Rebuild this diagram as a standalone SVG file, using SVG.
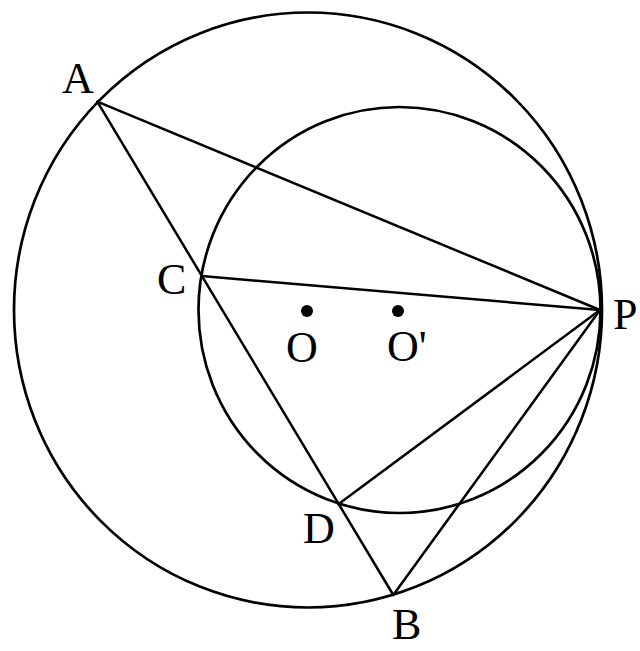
<svg xmlns="http://www.w3.org/2000/svg" width="640" height="651" viewBox="0 0 640 651">
<style>
.c{fill:none;stroke:#000;stroke-width:2.7}
.l{stroke:#000;stroke-width:2.5;stroke-linecap:round}
.t{font-family:"Liberation Serif","Times New Roman",serif;font-size:44px;fill:#000}
.d{fill:#000}
</style>
<rect width="640" height="651" fill="#fff"/>
<g id="circle-O"><ellipse class="c" cx="308" cy="310" rx="294" ry="297.5"/></g>
<g id="circle-O2"><ellipse class="c" cx="399.5" cy="310" rx="201" ry="203"/></g>
<g id="connectors">
<line class="l" x1="97.3" y1="101.7" x2="393.3" y2="595"/>
<line class="l" x1="97.3" y1="101.7" x2="600" y2="310"/>
<line class="l" x1="201.7" y1="276" x2="600" y2="310"/>
<line class="l" x1="338.3" y1="504.3" x2="600" y2="310"/>
<line class="l" x1="393.3" y1="595" x2="600" y2="310"/>
</g>
<g id="point-A"><text class="t" x="62" y="93">A</text></g>
<g id="point-C"><text class="t" x="157" y="294">C</text></g>
<g id="point-O"><circle class="d" cx="307" cy="311" r="6"/><text class="t" x="286" y="362">O</text></g>
<g id="point-O2"><circle class="d" cx="398" cy="311" r="6"/><text class="t" x="387" y="361">O'</text></g>
<g id="point-P"><text class="t" x="613" y="329">P</text></g>
<g id="point-D"><text class="t" x="303" y="543">D</text></g>
<g id="point-B"><text class="t" x="392" y="639">B</text></g>
</svg>
